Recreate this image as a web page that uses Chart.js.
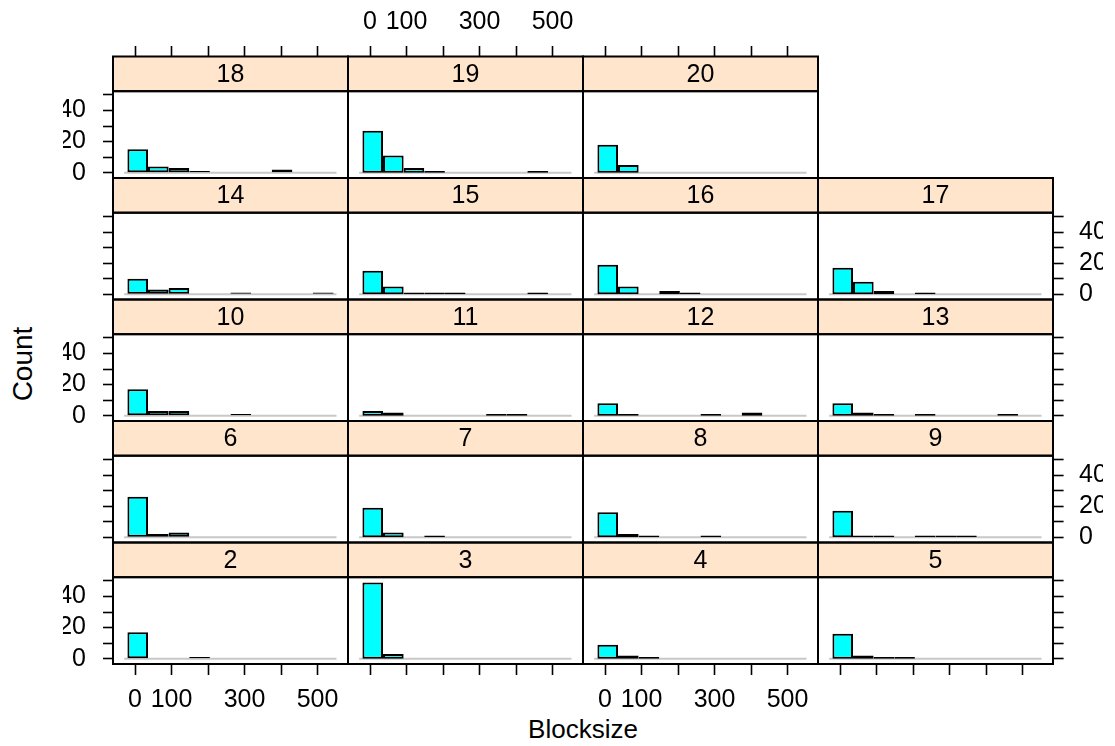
<!DOCTYPE html>
<html>
<head>
<meta charset="utf-8">
<script src="https://cdn.jsdelivr.net/npm/chart.js@4.4.0/dist/chart.umd.min.js"></script>
<style>
  body { margin: 0; background: #fff; }
  #page { position: relative; width: 1115px; height: 746px; overflow: hidden; font-family: "Liberation Sans", Arial, sans-serif; }
  #page canvas { position: absolute; left: 0; top: 0; }
  .axis-title { position: absolute; color: #000; white-space: nowrap; line-height: 1; }
  #xlab { font-size: 26px; left: 583px; top: 716px; transform: translateX(-50%); }
  #ylab { font-size: 28px; left: 23px; top: 364px; transform: translate(-50%, -50%) rotate(-90deg); transform-origin: 50% 50%; }
</style>
</head>
<body>
<div id="page">
  <div class="axis-title" id="xlab">Blocksize</div>
  <div class="axis-title" id="ylab">Count</div>
</div>
<script>
// ── Data ──
const binBreaks = [-21, 35.5, 92, 148.5, 205, 261.5, 318, 374.5, 431, 487.5, 544];
const panelLabels = ['2','3','4','5','6','7','8','9','10','11','12','13','14','15','16','17','18','19','20'];

const count2  = [17, 0, 0, 1, 0, 0, 0, 0, 0, 0];
const count3  = [49, 3, 0, 0, 0, 0, 0, 0, 0, 0];
const count4  = [ 9, 2, 1, 0, 0, 0, 0, 0, 0, 0];
const count5  = [16, 2, 1, 1, 0, 0, 0, 0, 0, 0];
const count6  = [26, 2, 3, 0, 0, 0, 0, 0, 0, 0];
const count7  = [19, 3, 0, 1, 0, 0, 0, 0, 0, 0];
const count8  = [16, 2, 1, 0, 0, 1, 0, 0, 0, 0];
const count9  = [17, 1, 1, 0, 1, 1, 1, 0, 0, 0];
const count10 = [17, 3, 3, 0, 0, 1, 0, 0, 0, 0];
const count11 = [ 3, 2, 0, 0, 0, 0, 1, 1, 0, 0];
const count12 = [ 8, 1, 0, 0, 0, 1, 0, 2, 0, 0];
const count13 = [ 8, 2, 1, 0, 1, 0, 0, 0, 1, 0];
const count14 = [10, 3, 4, 0, 0, 1, 0, 0, 0, 1];
const count15 = [15, 5, 1, 1, 1, 0, 0, 0, 1, 0];
const count16 = [19, 5, 0, 2, 1, 0, 0, 0, 0, 0];
const count17 = [17, 8, 2, 0, 1, 0, 0, 0, 0, 0];
const count18 = [15, 4, 3, 1, 0, 0, 0, 2, 0, 0];
const count19 = [27, 11, 3, 1, 0, 0, 0, 0, 1, 0];
const count20 = [18, 5, 0, 0, 0, 0, 0, 0, 0, 0];

const panelCounts = [count2, count3, count4, count5, count6, count7, count8, count9, count10,
  count11, count12, count13, count14, count15, count16, count17, count18, count19, count20];

const xTicks = [0, 100, 200, 300, 400, 500];
const xTickLabels = ['0', '100', '', '300', '', '500'];
const yTicks = [0, 10, 20, 30, 40, 50];
const yTickLabels = ['0', '', '20', '', '40', ''];
const refLineX = [-30, 552];

const xRange = [-60.5, 583.5];
const yRange = [-3.43, 52.43];

// ── Layout (pixels) ──
const W = 1115, H = 746;
const gridLeft = 113, colW = 235;
const gridTop = 56.5, rowH = 121.5, stripH = 34.7;
const NROW = 5;
const AX_W = 50, TOP_H = 85, BOT_H = 60;
const FONT = '"Liberation Sans", Arial, sans-serif';
const FONT_SIZE = 25;

const binMids = binBreaks.slice(0, -1).map((b, i) => (b + binBreaks[i + 1]) / 2);

// strip + panel box, drawn around the chart area
const stripPlugin = {
  id: 'strip',
  afterDraw(chart, args, opts) {
    const { ctx, chartArea: a } = chart;
    ctx.save();
    ctx.fillStyle = '#ffe5cc';
    ctx.fillRect(a.left, a.top - stripH, a.right - a.left, stripH);
    ctx.strokeStyle = '#000';
    ctx.lineWidth = 2;
    ctx.strokeRect(a.left, a.top - stripH, a.right - a.left, stripH);
    ctx.strokeRect(a.left, a.top, a.right - a.left, a.bottom - a.top);
    ctx.fillStyle = '#000';
    ctx.font = FONT_SIZE + 'px ' + FONT;
    ctx.textAlign = 'center';
    ctx.textBaseline = 'middle';
    ctx.fillText(opts.label, (a.left + a.right) / 2, a.top - stripH / 2 + 1);
    ctx.restore();
  }
};

function tickGrid(len) {
  return { display: true, offset: false, drawOnChartArea: false, drawTicks: true, tickLength: len, tickColor: '#000', tickWidth: 1.6 };
}

const page = document.getElementById('page');

panelCounts.forEach((counts, i) => {
  const col = i % 4;
  const row = NROW - 1 - Math.floor(i / 4);   // 0 = top row
  const L = gridLeft + col * colW, R = L + colW;
  const T = gridTop + row * rowH + stripH, B = gridTop + (row + 1) * rowH;

  const leftTicks = col === 0, leftLabels = leftTicks && row % 2 === 0;
  const rightTicks = col === 3, rightLabels = rightTicks && row % 2 === 1;
  const topTicks = row === 0, topLabels = topTicks && col === 1;
  const botTicks = row === NROW - 1, botLabels = botTicks && (col === 0 || col === 2);

  const canvas = document.createElement('canvas');
  canvas.width = W; canvas.height = H;
  canvas.style.width = W + 'px'; canvas.style.height = H + 'px';
  page.appendChild(canvas);

  const tickFont = { family: FONT, size: FONT_SIZE };
  const xAxis = (pos, show, labels, len, pad, h) => ({
    type: 'linear', position: pos, display: show, offset: false,
    min: xRange[0], max: xRange[1],
    afterBuildTicks: s => { s.ticks = xTicks.map(v => ({ value: v })); },
    afterFit: s => { s.height = show ? h : 0; },
    grid: tickGrid(len), border: { display: false },
    ticks: { color: '#000', font: tickFont, padding: pad, maxRotation: 0, autoSkip: false,
      callback: (v, idx) => labels ? xTickLabels[idx] : '' }
  });
  const yAxis = (pos, show, labels, len, pad) => ({
    type: 'linear', position: pos, display: show, offset: false,
    min: yRange[0], max: yRange[1],
    afterBuildTicks: s => { s.ticks = yTicks.map(v => ({ value: v })); },
    afterFit: s => { s.width = show ? AX_W : 0; },
    grid: tickGrid(len), border: { display: false },
    ticks: { color: '#000', font: tickFont, padding: pad, autoSkip: false,
      callback: (v, idx) => labels ? yTickLabels[idx] : '' }
  });

  new Chart(canvas, {
    type: 'bar',
    data: {
      datasets: [{
        type: 'bar',
        data: counts.map((c, k) => ({ x: binMids[k], y: c || null })),
        backgroundColor: '#00ffff',
        borderColor: '#000',
        borderWidth: 2,
        borderSkipped: false,
        inflateAmount: 0,
        barPercentage: 1,
        categoryPercentage: 1,
        xAxisID: 'x', yAxisID: 'y',
        order: 1
      }, {
        type: 'line',
        data: refLineX.map(x => ({ x, y: 0 })),
        borderColor: '#c8c8c8',
        borderWidth: 2,
        pointRadius: 0,
        xAxisID: 'x', yAxisID: 'y',
        order: 2
      }]
    },
    options: {
      responsive: false,
      animation: false,
      events: [],
      layout: {
        autoPadding: false,
        padding: {
          left: L - (leftTicks ? AX_W : 0),
          right: W - R - (rightTicks ? AX_W : 0),
          top: T - (topTicks ? TOP_H : 0),
          bottom: H - B - (botTicks ? BOT_H : 0)
        }
      },
      plugins: { legend: { display: false }, tooltip: { enabled: false }, strip: { label: panelLabels[i] } },
      scales: {
        x: xAxis('bottom', botTicks, botLabels, 11, 10.1, BOT_H),
        xt: xAxis('top', topTicks, topLabels, T - 46, 8.6, TOP_H),
        y: yAxis('left', leftTicks, leftLabels, 10, 17),
        yr: yAxis('right', rightTicks, rightLabels, 10.6, 15.4)
      }
    },
    plugins: [stripPlugin]
  });
});
</script>
</body>
</html>
